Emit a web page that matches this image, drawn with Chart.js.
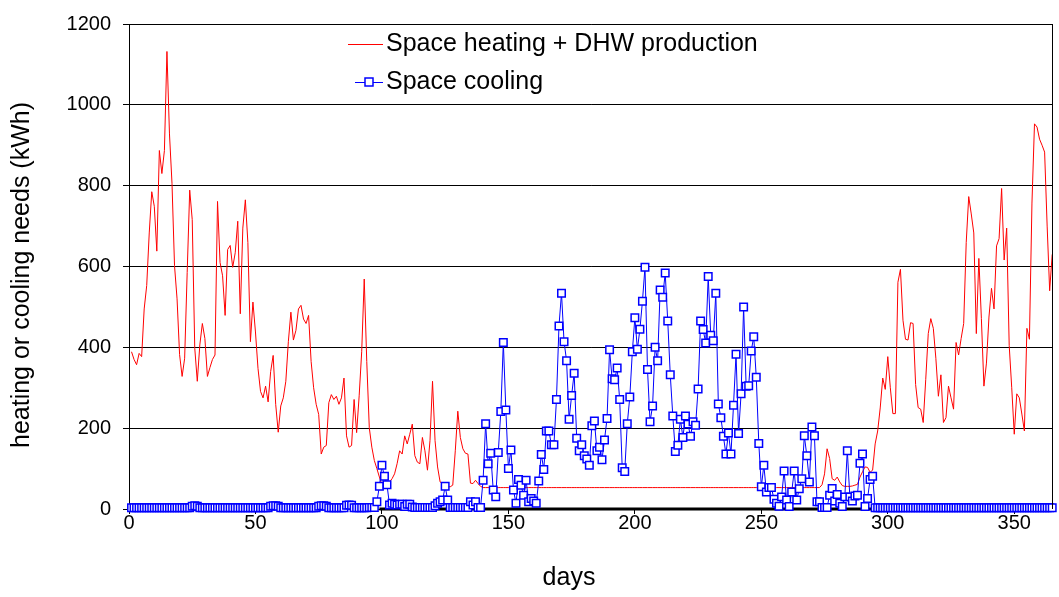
<!DOCTYPE html>
<html><head><meta charset="utf-8">
<script src="https://cdn.jsdelivr.net/npm/chart.js@4.4.1/dist/chart.umd.min.js"></script>
<style>html,body{margin:0;padding:0;background:#fff;} #wrap{width:1059px;height:597px;position:relative;}</style>
</head><body><div id="wrap"><canvas id="c"></canvas></div>
<script>
const heatingLabel = 'Space heating + DHW production';
const coolingLabel = 'Space cooling';
const xTitle = 'days';
const yTitle = 'heating or cooling needs (kWh)';
const xTicks = [0, 50, 100, 150, 200, 250, 300, 350];
const yTicks = [0, 200, 400, 600, 800, 1000, 1200];

// daily values, day 1 .. day 365
const heatingValues = [
389,370,357,385,377,495,553,683,785,749,638,887,830,887,1132,
928,806,602,520,382,328,373,585,789,716,398,316,406,459,422,328,
350,370,381,761,610,577,479,642,652,598,634,712,483,695,765,659,
414,512,438,348,291,275,304,265,340,380,259,190,255,275,316,
414,487,418,442,495,504,470,459,479,365,300,259,234,136,153,157,
263,283,271,279,259,275,324,181,153,157,271,189,280,389,569,365,201,
153,120,100,79,59,55,60,67,75,87,112,144,136,181,161,185,210,
132,116,112,177,144,96,169,316,169,104,67,62,59,55,55,59,144,242,177,149,138,136,64,63,71,63,56,
53,53,53,53,53,53,53,53,53,53,53,53,53,53,53,53,53,53,53,53,
53,53,53,53,53,53,53,53,53,53,53,53,53,53,53,53,53,53,53,53,
53,53,53,53,53,53,53,53,53,53,53,53,53,53,53,53,53,53,53,53,
53,53,53,53,53,53,53,53,53,53,53,53,53,53,53,53,53,53,53,53,
53,53,53,53,53,53,53,53,53,53,53,53,53,53,53,53,53,53,53,53,
53,53,53,53,53,53,53,53,53,53,53,53,53,53,53,53,53,53,53,53,
53,53,53,53,53,53,53,53,53,53,53,53,53,
53,60,87,149,125,75,71,79,67,58,56,56,56,57,59,61,79,92,104,103,
91,96,161,193,250,324,296,377,300,236,236,561,593,467,420,418,461,459,308,251,
247,214,320,434,471,447,373,279,332,214,226,304,275,247,412,381,422,459,659,773,
730,683,434,620,471,304,361,475,546,495,651,669,793,616,695,405,300,185,285,275,
235,193,447,420,757,953,945,915,900,883,700,540,630
];

const coolingValues = [
3,3,3,3,3,3,3,3,3,3,3,3,3,3,3,3,3,3,3,3,3,3,3,3,
7,8,7,
3,3,3,3,3,3,3,3,3,3,3,3,3,3,3,3,3,3,3,3,3,3,3,3,3,3,3,3,
7,8,8,7,
3,3,3,3,3,3,3,3,3,3,3,3,3,3,3,
7,8,8,7,
3,3,3,3,3,3,3,
9,10,9,
3,3,3,3,3,3,4,4,4,
18,56,108,81,60,10,14,12,10,12,12,6,12,12,5,4,4,4,4,4,4,4,4,8,14,18,22,56,22,4,4,4,4,4,4,4,4,18,10,18,4,4,
71,211,112,138,47,30,140,241,412,245,100,146,47,14,73,59,34,71,18,26,
20,14,69,135,98,193,193,159,159,271,453,534,414,367,222,281,336,175,144,159,
132,124,108,206,218,144,153,122,171,224,394,
322,320,349,271,102,93,211,277,389,473,395,445,514,598,345,216,255,400,367,542,
524,584,465,332,230,142,158,222,177,230,210,180,216,207,297,465,444,411,575,430,
416,534,260,226,180,136,188,136,257,383,187,285,500,304,305,391,426,326,162,
55,108,42,53,53,24,14,7,30,94,22,6,42,94,22,50,75,181,132,67,
203,181,18,18,4,4,4,34,51,20,36,14,6,30,144,30,20,32,34,113,
136,6,26,73,81,
3,3,3,3,3,3,3,3,3,3,3,3,3,3,3,3,3,3,3,3,
3,3,3,3,3,3,3,3,3,3,3,3,3,3,3,3,3,3,3,3,
3,3,3,3,3,3,3,3,3,3,3,3,3,3,3,3,3,3,3,3,
3,3,3,3,3,3,3,3,3,3,3
];

// heavy zero line along the axis during the cooling season
const baselineDays = [99, 294];
const baselineValues = [0, 0];

const days = heatingValues.map((_, i) => i + 1);
const toPoints = (xs, ys) => xs.map((x, i) => ({x: x, y: ys[i]}));

const FONT = 'Liberation Sans, Arial, Helvetica, sans-serif';
Chart.defaults.font.family = FONT;
Chart.defaults.color = '#000';

const decorations = {
  id: 'decorations',
  afterDraw(chart, args, opts) {
    const ctx = chart.ctx;
    const area = chart.chartArea;
    ctx.save();
    // right border of plot area
    ctx.strokeStyle = '#000';
    ctx.lineWidth = 1;
    ctx.beginPath();
    ctx.moveTo(Math.round(area.right) + 0.5, area.top);
    ctx.lineTo(Math.round(area.right) + 0.5, area.bottom);
    ctx.stroke();

    // axis titles
    ctx.fillStyle = '#000';
    ctx.font = opts.titleSize + 'px ' + FONT;
    ctx.textAlign = 'center';
    ctx.textBaseline = 'middle';
    ctx.fillText(xTitle, opts.xTitlePos[0], opts.xTitlePos[1]);
    ctx.save();
    ctx.translate(opts.yTitlePos[0], opts.yTitlePos[1]);
    ctx.rotate(-Math.PI / 2);
    ctx.fillText(yTitle, 0, 0);
    ctx.restore();

    // legend inside the plot
    ctx.font = opts.legendSize + 'px ' + FONT;
    ctx.textBaseline = 'middle';
    ctx.textAlign = 'left';
    opts.items.forEach(it => {
      const ds = chart.data.datasets[it.index];
      ctx.strokeStyle = ds.borderColor;
      ctx.lineWidth = 1;
      ctx.beginPath();
      ctx.moveTo(it.x0, it.y + 0.5);
      ctx.lineTo(it.x1, it.y + 0.5);
      ctx.stroke();
      if (it.marker) {
        const s = it.marker;
        const cx = (it.x0 + it.x1) / 2;
        ctx.fillStyle = '#fff';
        ctx.fillRect(cx - s / 2, it.y - s / 2, s, s);
        ctx.lineWidth = 1.5;
        ctx.strokeRect(cx - s / 2, it.y - s / 2, s, s);
      }
      ctx.fillStyle = '#000';
      ctx.fillText(ds.label, it.tx, it.y);
    });
    ctx.restore();
  }
};

new Chart(document.getElementById('c'), {
  type: 'line',
  data: {
    datasets: [
      {
        label: heatingLabel,
        data: toPoints(days, heatingValues),
        borderColor: '#ff0000',
        borderWidth: 1,
        pointRadius: 0,
        tension: 0,
        order: 1,
        clip: false
      },
      {
        label: coolingLabel,
        data: toPoints(days, coolingValues),
        borderColor: '#0000ff',
        borderWidth: 1,
        pointStyle: 'rect',
        pointRadius: 5.3,
        pointBorderWidth: 1.5,
        pointBackgroundColor: '#ffffff',
        pointBorderColor: '#0000ff',
        tension: 0,
        order: 0,
        clip: false
      },
      {
        label: 'zero',
        data: toPoints(baselineDays, baselineValues),
        borderColor: '#000000',
        borderWidth: 3,
        pointRadius: 0,
        order: 2,
        clip: false
      }
    ]
  },
  options: {
    responsive: true,
    maintainAspectRatio: false,
    animation: false,
    events: [],
    layout: { padding: { left: 0, top: 19, right: 6, bottom: 0 } },
    plugins: {
      legend: { display: false },
      tooltip: { enabled: false },
      decorations: {
        titleSize: 25,
        xTitlePos: [569, 578],
        yTitlePos: [22, 275],
        legendSize: 25,
        items: [
          { index: 0, x0: 348, x1: 383, y: 44, tx: 386 },
          { index: 1, x0: 355, x1: 383, y: 82, tx: 386, marker: 8 }
        ]
      }
    },
    scales: {
      x: {
        type: 'linear',
        min: 0,
        max: 365,
        afterBuildTicks: s => { s.ticks = xTicks.map(v => ({ value: v })); },
        afterFit: s => { s.height = 88; },
        ticks: { font: { size: 20 }, color: '#000', padding: -3, maxRotation: 0, callback: v => String(v) },
        grid: { display: true, drawOnChartArea: false, drawTicks: true, tickLength: 5, color: '#000', lineWidth: 1 },
        border: { display: true, color: '#000', width: 1 },
        title: { display: false }
      },
      y: {
        type: 'linear',
        min: 0,
        max: 1200,
        afterBuildTicks: s => { s.ticks = yTicks.map(v => ({ value: v })); },
        afterFit: s => { s.width = 129; },
        ticks: { font: { size: 20 }, color: '#000', padding: 12, callback: v => String(v) },
        grid: { display: true, drawOnChartArea: true, drawTicks: true, tickLength: 6, color: '#000', lineWidth: 1 },
        border: { display: true, color: '#000', width: 1 },
        title: { display: false }
      }
    }
  },
  plugins: [decorations]
});
</script>
</body></html>
